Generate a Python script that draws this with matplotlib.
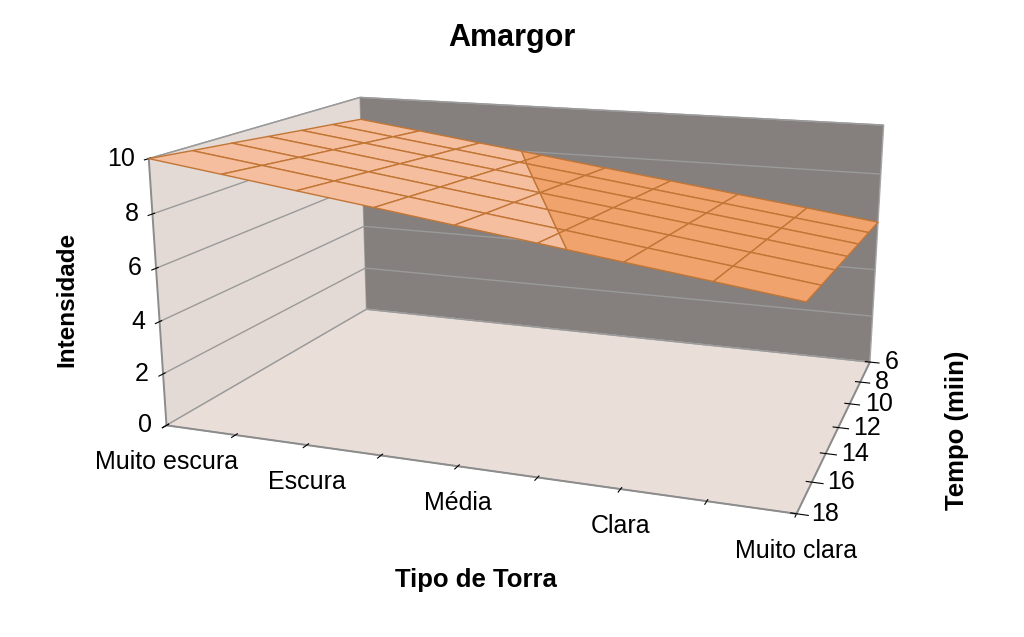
import numpy as np
import matplotlib
matplotlib.use("Agg")
import matplotlib.pyplot as plt
from mpl_toolkits.mplot3d import proj3d
from mpl_toolkits.mplot3d.art3d import Poly3DCollection

plt.rcParams['font.family'] = ['Liberation Sans', 'DejaVu Sans']

# ---- data ----
torra_labels = ["Muito escura", "", "Escura", "", "Média", "", "Clara", "", "Muito clara"]
tempo = [6, 8, 10, 12, 14, 16, 18]
# rows: tempo 6..18 ; columns: 9 roast positions (Muito escura .. Muito clara)
amargor = [
    [9.00, 8.63, 8.25, 7.88, 7.50, 7.13, 6.75, 6.38, 6.00],
    [9.17, 8.79, 8.42, 8.04, 7.67, 7.29, 6.92, 6.54, 6.17],
    [9.33, 8.96, 8.58, 8.21, 7.83, 7.46, 7.08, 6.71, 6.33],
    [9.50, 9.13, 8.75, 8.38, 8.00, 7.63, 7.25, 6.88, 6.50],
    [9.67, 9.29, 8.92, 8.54, 8.17, 7.79, 7.42, 7.04, 6.67],
    [9.83, 9.46, 9.08, 8.71, 8.33, 7.96, 7.58, 7.21, 6.83],
    [10.00, 9.63, 9.25, 8.88, 8.50, 8.13, 7.75, 7.38, 7.00],
]
z_ticks = [0, 2, 4, 6, 8, 10]
band_levels = [6, 8, 10]
band_colors = ["#F0A36D", "#F5BE9E"]

# ---- geometry ----
Z = np.array(amargor, dtype=float)
xpos = np.arange(len(torra_labels))
tmin, tmax = min(tempo), max(tempo)
ypos = np.array([tmax + tmin - t for t in tempo], dtype=float)  # tempo 6 at back
X, Y = np.meshgrid(xpos, ypos)


def clip(poly, level, above):
    out = []
    n = len(poly)
    for k in range(n):
        p = poly[k]
        q = poly[(k + 1) % n]
        pin = p[2] >= level if above else p[2] <= level
        qin = q[2] >= level if above else q[2] <= level
        if pin:
            out.append(p)
        if pin != qin:
            t = (level - p[2]) / (q[2] - p[2])
            out.append(tuple(p[m] + t * (q[m] - p[m]) for m in range(3)))
    return out


polys, fcols = [], []
for i in range(Z.shape[0] - 1):
    for j in range(Z.shape[1] - 1):
        quad = [(X[i, j], Y[i, j], Z[i, j]), (X[i, j + 1], Y[i, j + 1], Z[i, j + 1]),
                (X[i + 1, j + 1], Y[i + 1, j + 1], Z[i + 1, j + 1]), (X[i + 1, j], Y[i + 1, j], Z[i + 1, j])]
        lo = clip(quad, band_levels[1], False)
        hi = clip(quad, band_levels[1], True)
        if len(lo) >= 3:
            polys.append(lo); fcols.append(band_colors[0])
        if len(hi) >= 3:
            polys.append(hi); fcols.append(band_colors[1])

W, H = 1024, 637
fig = plt.figure(figsize=(W / 100, H / 100), dpi=100)
ax = fig.add_axes([0.02, 0.132, 1.0, 0.868], projection='3d')
ax.computed_zorder = False
ax.set_proj_type('persp', focal_length=0.5)
ax.view_init(elev=14.5, azim=-70)
ax.set_box_aspect((2.83, 2.0, 1.21), zoom=1.38)

coll = Poly3DCollection(polys, facecolors=fcols, edgecolors="#C27636", linewidths=1.0, zorder=2)
coll.set_clip_on(False)
ax.add_collection3d(coll)

ax.set_xlim(xpos[0], xpos[-1])
ax.set_ylim(ypos.min(), ypos.max())
ax.set_zlim(0, 10)

ax.set_xticks(xpos)
ax.set_yticks(ypos)
ax.set_zticks(z_ticks)
ax.zaxis.set_ticks_position('lower')
ax.tick_params(axis='both', which='both', labelleft=False, labelbottom=False,
               labelright=False, labeltop=False)
for a in (ax.xaxis, ax.yaxis, ax.zaxis):
    a.set_major_formatter(plt.NullFormatter())
    a.label.set_visible(False)

ax.xaxis.set_pane_color("#E3DAD5")
ax.yaxis.set_pane_color("#857F7D")
ax.zaxis.set_pane_color("#EADED9")
for a in (ax.xaxis, ax.yaxis, ax.zaxis):
    a.pane.set_edgecolor("#A6A6A6")
    a.line.set_color("#8C8C8C")
    a.line.set_linewidth(1.4)
    a._axinfo['tick']['color'] = "#8C8C8C"
ax.xaxis._axinfo['grid']['color'] = (1, 1, 1, 0)
ax.yaxis._axinfo['grid']['color'] = (1, 1, 1, 0)
ax.zaxis._axinfo['grid']['color'] = "#9A9A9A"
ax.zaxis._axinfo['grid']['linewidth'] = 1.0

# project the tick positions through the 3D axes to place the tick labels
fig.canvas.draw()
M = ax.get_proj()


def to_fig(xs, ys, zs):
    x2, y2, _ = proj3d.proj_transform(np.asarray(xs, float), np.asarray(ys, float), np.asarray(zs, float), M)
    d = ax.transData.transform(np.column_stack([x2, y2]))
    return d[:, 0] / W, d[:, 1] / H


lab_fs = 18
px, py = to_fig(xpos, np.full(len(xpos), ypos.min()), np.zeros(len(xpos)))
for fx, fy, lab in zip(px, py, torra_labels):
    if lab:
        fig.text(fx, fy - 37 / H, lab, ha='center', va='center', fontsize=lab_fs)
px, py = to_fig(np.full(len(ypos), xpos[-1]), ypos, np.zeros(len(ypos)))
for fx, fy, t in zip(px, py, tempo):
    fig.text(fx + 15 / W, fy, str(t), ha='left', va='center', fontsize=lab_fs)
px, py = to_fig(np.full(len(z_ticks), xpos[0]), np.full(len(z_ticks), ypos.min()), z_ticks)
for fx, fy, zt in zip(px, py, z_ticks):
    fig.text(fx - 14 / W, fy, str(zt), ha='right', va='center', fontsize=lab_fs)

fig.text(0.5, 0.94, "Amargor", ha='center', va='center', fontsize=22, fontweight='bold')
fig.text(0.065, 0.53, "Intensidade", rotation=90, ha='center', va='center', fontsize=17.5, fontweight='bold')
fig.text(0.465, 0.09, "Tipo de Torra", ha='center', va='center', fontsize=18.5, fontweight='bold')
fig.text(0.935, 0.325, "Tempo (miin)", rotation=90, ha='center', va='center', fontsize=18.5, fontweight='bold')

fig.savefig("out.png", dpi=100)
